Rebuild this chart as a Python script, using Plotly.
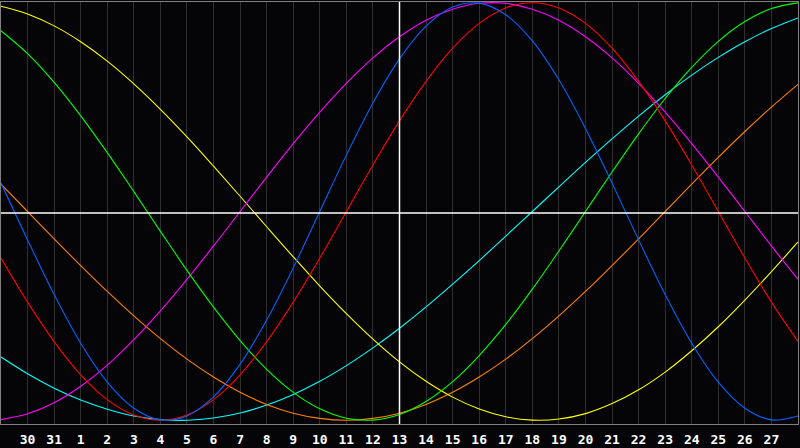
import plotly.graph_objects as go

# day offsets from "today" (0 = day 13)
days = list(range(-15, 16))
tick_days = list(range(-14, 15))
tick_labels = ["30", "31", "1", "2", "3", "4", "5", "6", "7", "8", "9", "10", "11", "12",
               "13", "14", "15", "16", "17", "18", "19", "20", "21", "22", "23", "24",
               "25", "26", "27"]

# cycle values (%) read at each day gridline
physical = [13.6, -13.6, -39.8, -63.1, -81.7, -94.2, -99.8, -97.9, -88.8, -73.1, -52.0, -27.0,
            0.0, 27.0, 52.0, 73.1, 88.8, 97.9, 99.8, 94.2, 81.7, 63.1, 39.8, 13.6, -13.6,
            -39.8, -63.1, -81.7, -94.2, -99.8, -97.9]
emotional = [-22.3, -43.4, -62.3, -78.2, -90.1, -97.5, -100.0, -97.5, -90.1, -78.2, -62.3,
             -43.4, -22.3, 0.0, 22.3, 43.4, 62.3, 78.2, 90.1, 97.5, 100.0, 97.5, 90.1, 78.2,
             62.3, 43.4, 22.3, 0.0, -22.3, -43.4, -62.3]
intellectual = [86.6, 75.6, 61.8, 45.8, 28.2, 9.5, -9.5, -28.2, -45.8, -61.8, -75.6, -86.6,
                -94.5, -99.0, -99.9, -97.2, -91.0, -81.5, -69.0, -54.1, -37.2, -18.9, 0.0,
                18.9, 37.2, 54.1, 69.0, 81.5, 91.0, 97.2, 99.9]
intuitive = [-99.7, -96.9, -91.6, -83.7, -73.6, -61.4, -47.6, -32.5, -16.5, 0.0, 16.5, 32.5,
             47.6, 61.4, 73.6, 83.7, 91.6, 96.9, 99.7, 99.7, 96.9, 91.6, 83.7, 73.6, 61.4,
             47.6, 32.5, 16.5, 0.0, -16.5, -32.5]
aesthetic = [98.3, 94.6, 88.9, 81.3, 72.0, 61.1, 48.9, 35.7, 21.7, 7.3, -7.3, -21.7, -35.7,
             -48.9, -61.1, -72.0, -81.3, -88.9, -94.6, -98.3, -99.9, -99.4, -96.8, -92.0,
             -85.4, -76.9, -66.7, -55.2, -42.4, -28.8, -14.6]
awareness = [13.1, 0.0, -13.1, -25.9, -38.3, -50.0, -60.9, -70.7, -79.3, -86.6, -92.4, -96.6,
             -99.1, -100.0, -99.1, -96.6, -92.4, -86.6, -79.3, -70.7, -60.9, -50.0, -38.3,
             -25.9, -13.1, 0.0, 13.1, 25.9, 38.3, 50.0, 60.9]
spiritual = [-69.7, -77.7, -84.6, -90.3, -94.7, -97.9, -99.6, -100.0, -98.9, -96.5, -92.7,
             -87.6, -81.3, -73.8, -65.3, -55.9, -45.7, -34.8, -23.5, -11.8, 0.0, 11.8, 23.5,
             34.8, 45.7, 55.9, 65.3, 73.8, 81.3, 87.6, 92.7]

series = [
    ("Spiritual", spiritual, "#00ffff"),
    ("Awareness", awareness, "#ff8000"),
    ("Aesthetic", aesthetic, "#ffff00"),
    ("Intuitive", intuitive, "#ff00ff"),
    ("Intellectual", intellectual, "#00ff00"),
    ("Emotional", emotional, "#ff0000"),
    ("Physical", physical, "#0064ff"),
]

fig = go.Figure()
for name, vals, col in series:
    fig.add_trace(go.Scatter(x=days, y=vals, mode="lines", name=name,
                             line=dict(color=col, width=1.1, shape="spline", smoothing=1.0),
                             hoverinfo="skip"))

# white crosshair: today and the zero line
fig.add_shape(type="line", xref="x", yref="paper", x0=0, x1=0, y0=0, y1=1,
              line=dict(color="#ffffff", width=1.5))
fig.add_shape(type="line", xref="paper", yref="paper", x0=0, x1=1, y0=0.5, y1=0.5,
              line=dict(color="#ffffff", width=1.5))

fig.update_layout(
    width=800, height=448,
    margin=dict(l=1, r=1, t=1, b=21),
    paper_bgcolor="#050508",
    plot_bgcolor="#050508",
    showlegend=False,
    xaxis=dict(range=[-15, 15], tickmode="array", tickvals=tick_days, ticktext=tick_labels,
               showgrid=True, gridcolor="#303030", gridwidth=1, zeroline=False,
               showline=True, mirror=True, linecolor="#808080", linewidth=1,
               ticks="", ticklabelstandoff=3,
               tickfont=dict(family="DejaVu Sans Mono", size=13, color="#ffffff", weight="bold"),
               fixedrange=True),
    yaxis=dict(range=[-101.77, 100.33], showgrid=False, zeroline=False, showticklabels=False,
               showline=True, mirror=True, linecolor="#808080", linewidth=1, fixedrange=True),
)

fig.write_html("out.html", config={"displayModeBar": False})

# remove the browser's default page margin so the chart fills the window exactly
with open("out.html", "r", encoding="utf-8") as f:
    html = f.read()
html = html.replace("<head>", "<head><style>html,body{margin:0;padding:0;background:#050508;overflow:hidden;}</style>", 1)
with open("out.html", "w", encoding="utf-8") as f:
    f.write(html)
